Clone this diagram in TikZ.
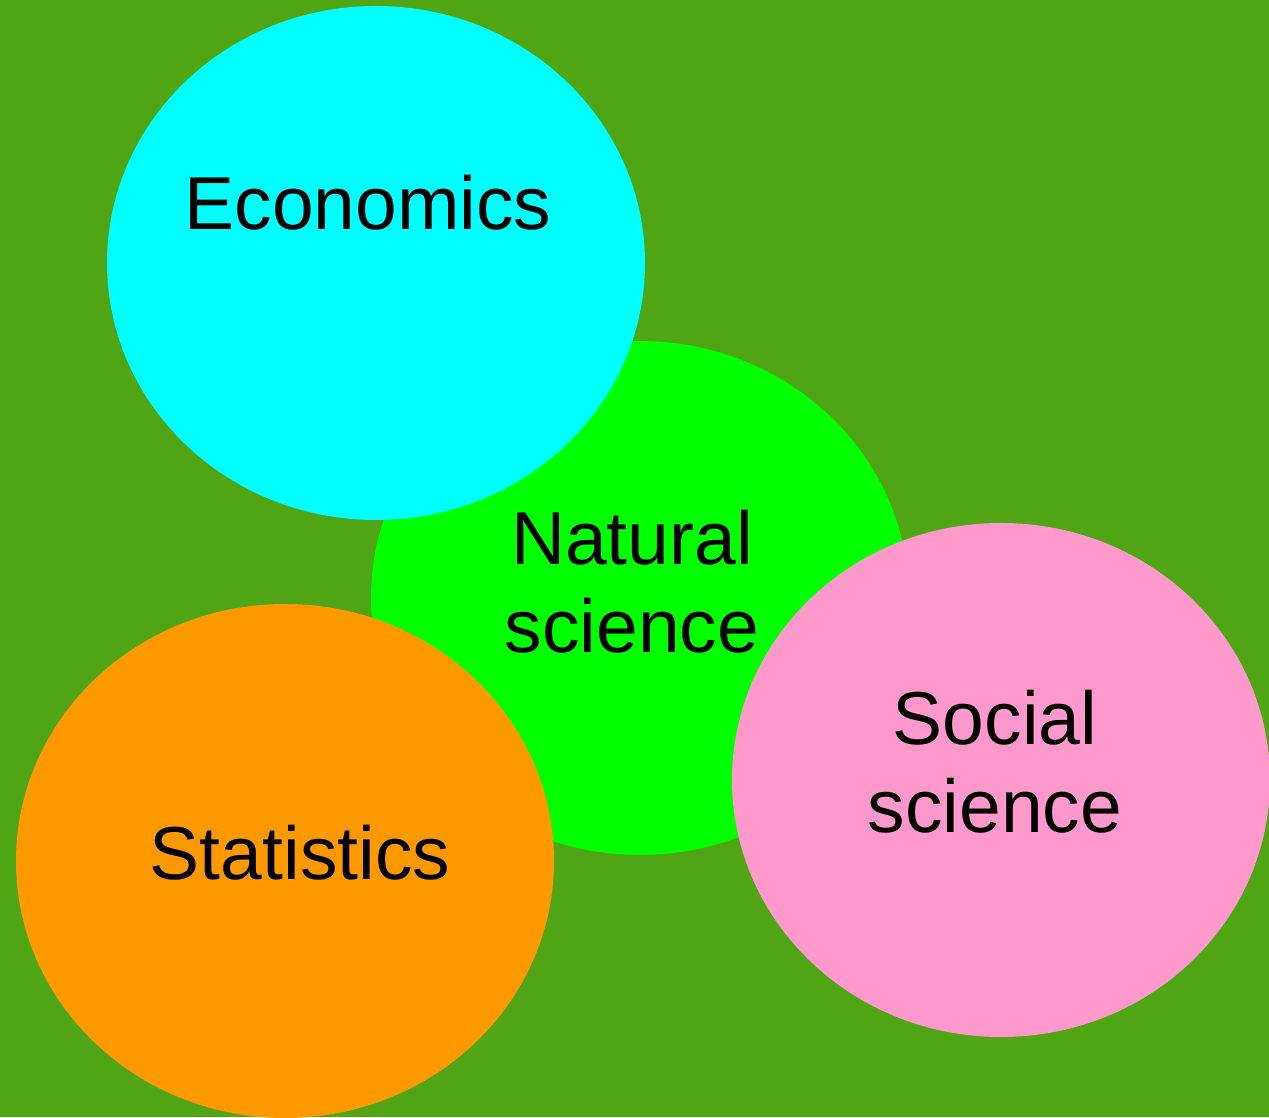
\documentclass[tikz,border=0pt]{standalone}
\usepackage{fontspec}
\setmainfont{Liberation Sans}
\usetikzlibrary{shapes.geometric}
\definecolor{meadow}{RGB}{80,165,21}
\definecolor{natgreen}{RGB}{0,255,0}
\definecolor{econcyan}{RGB}{0,255,255}
\definecolor{statorange}{RGB}{255,153,0}
\definecolor{socpink}{RGB}{255,153,204}
\tikzset{
	bubble/.style = {ellipse, inner sep = 0, minimum width = 538, minimum height = 514},
	word/.style = {font = \fontsize{75}{88}\selectfont, align = center, inner sep = 0}
}
\begin{document}
\begin{tikzpicture}[x = 1pt, y = 1pt]
		\fill[meadow] (0, 0) rectangle (1269, 1117);
		\useasboundingbox (0, 0) rectangle (1269, 1117);
		\node[bubble, fill = natgreen] (natural) at (640, 519) {};
		\node[bubble, fill = econcyan] (economics) at (376, 854) {};
		\node[bubble, fill = statorange] (statistics) at (285, 256) {};
		\node[bubble, fill = socpink] (social) at (1001, 337) {};
		\node[word, anchor = base] (econtext) at (368, 887) {Economics};
		\node[word, anchor = base] (nattext) at (632, 464) {Natural\\science};
		\node[word, anchor = base] (stattext) at (300, 237) {Statistics};
		\node[word, anchor = base] (soctext) at (995, 284) {Social\\science};
	\end{tikzpicture}
\end{document}
